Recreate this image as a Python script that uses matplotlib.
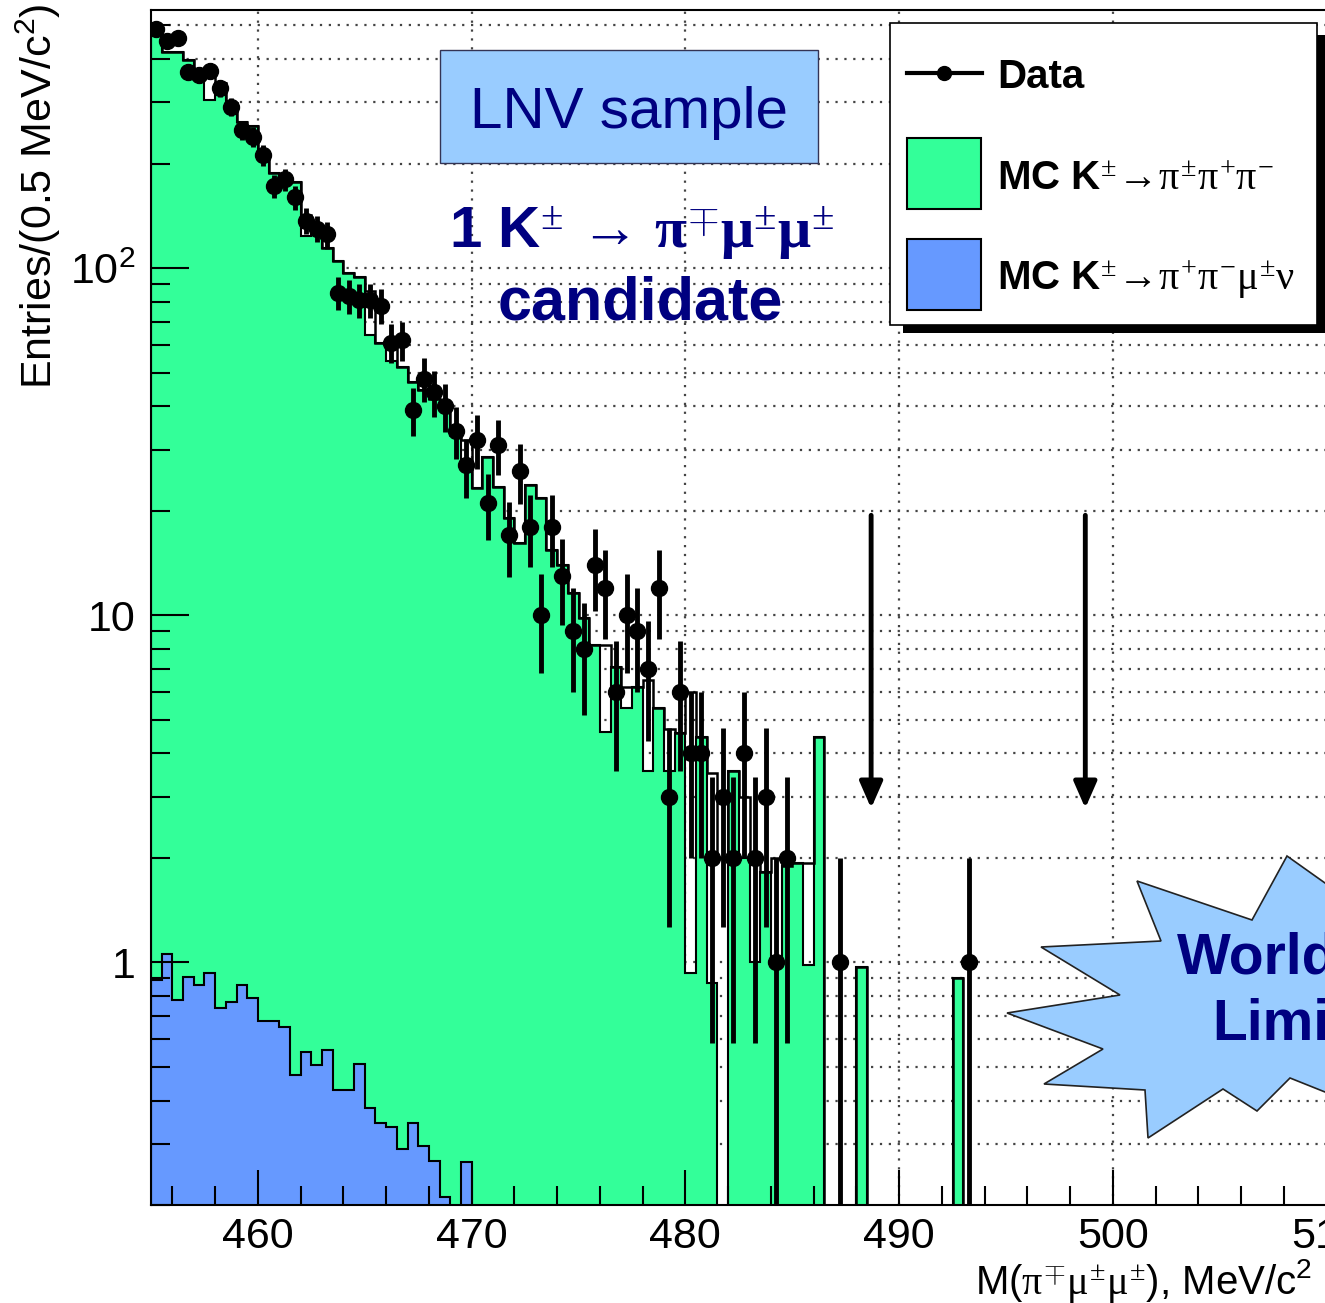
import numpy as np
import matplotlib
matplotlib.use("Agg")
import matplotlib.pyplot as plt
from matplotlib.patches import Rectangle, Polygon
from matplotlib.ticker import MultipleLocator, LogLocator, FuncFormatter, NullFormatter

plt.rcParams['font.family'] = ['Liberation Sans', 'DejaVu Sans']
plt.rcParams['mathtext.fontset'] = 'custom'
plt.rcParams['mathtext.rm'] = 'Liberation Serif'
plt.rcParams['mathtext.it'] = 'Liberation Serif'
plt.rcParams['mathtext.bf'] = 'Liberation Serif:bold'

# histogram binning: 0.5 MeV bins starting at 455 MeV
bin_lo = 455.0
bin_w = 0.5

# data counts per bin
data_counts = [489, 452, 460, 367, 360, 370, 330, 291, 250, 239,
               212, 172, 180, 160, 137, 130, 125, 85, 83, 81,
               81, 78, 61, 62, 39, 48, 44, 40, 34, 27,
               32, 21, 31, 17, 26, 18, 10, 18, 13, 9,
               8, 14, 12, 6, 10, 9, 7, 12, 3, 6,
               4, 4, 2, 3, 2, 4, 2, 3, 1, 2,
               0, 0, 0, 0, 1, 0, 0, 0, 0, 0,
               0, 0, 0, 0, 0, 0, 1, 0]

# MC K3pi stacked on top of Kmu4 (total height)
mc_k3pi = [480, 420, 420, 398, 367, 305, 341, 299, 264, 257,
           214, 188, 177, 177, 124, 131, 114, 105, 97, 94,
           64, 61, 54, 52, 47, 44.5, 42, 40, 33, 26.5,
           23.2, 28.5, 23.4, 19, 16.2, 23.7, 21.7, 15.4, 14, 11.6,
           9.8, 8.2, 4.6, 7.1, 5.4, 6.2, 3.57, 5.4, 3.55, 4.57,
           0.93, 4.45, 0.87, 0, 3.55, 2.0, 1.0, 1.82, 0.97, 1.9,
           1.93, 0.98, 4.45, 0, 0, 0, 0.97, 0, 0, 0,
           0, 0, 0, 0, 0, 0.9, 0, 0]

# unfilled MC outline
mc_outline = [480, 420, 420, 398, 367, 367, 341, 299, 264, 257,
              214, 188, 177, 177, 142, 131, 114, 105, 97, 94,
              86, 61, 60, 52, 47, 44.5, 42, 40, 33, 32,
              23.2, 28.5, 23.4, 19, 16.2, 23.7, 21.7, 15.4, 14, 11.6,
              9.8, 8.2, 8.2, 7.1, 6.2, 6.2, 6.5, 5.4, 4.7, 4.57,
              6.0, 4.45, 3.5, 2.0, 3.55, 3.0, 2.0, 1.82, 2.0, 1.9,
              1.93, 1.93, 4.45, 0, 0, 0, 0.97, 0, 0, 0,
              0, 0, 0, 0, 0, 0.9, 0, 0]

# MC Kmu4
mc_kmu4 = [0.89, 1.06, 0.78, 0.91, 0.86, 0.93, 0.74, 0.77, 0.86, 0.79,
           0.68, 0.68, 0.65, 0.475, 0.55, 0.505, 0.56, 0.43, 0.43, 0.51,
           0.38, 0.344, 0.336, 0.29, 0.344, 0.295, 0.267, 0.211, 0, 0.266]

W, H = 1325, 1303
floor = 1e-3
green = '#33ff99'
blue = '#6699ff'
navy = '#000080'
lightblue = '#99ccff'

edges = bin_lo + bin_w * np.arange(len(data_counts) + 1)
centers = edges[:-1] + bin_w / 2

fig = plt.figure(figsize=(W / 100, H / 100), dpi=100)
ax = fig.add_axes([151 / W, (H - 1205) / H, 60 * 21.375 / W, 1195 / H])
ax.set_yscale('log')
ax.set_xlim(455, 515)
ax.set_ylim(0.2, 554)

# dotted grid below the histograms
grid_kw = dict(color='#444444', lw=1.6, ls=(0, (1, 3)), zorder=0.5)
for gx in range(460, 515, 10):
    ax.axvline(gx, **grid_kw)
for dec in [0.1, 1, 10, 100]:
    for m in range(1, 10):
        v = m * dec
        if 0.2 < v < 554:
            ax.axhline(v, **grid_kw)

g = np.array(mc_k3pi, float)
ax.stairs(np.where(g > 0, g, floor), edges, fill=True, baseline=floor,
          facecolor=green, edgecolor='black', lw=1.5, zorder=1)
b = np.array(mc_kmu4, float)
ax.stairs(np.where(b > 0, b, floor), edges[:len(b) + 1], fill=True, baseline=floor,
          facecolor=blue, edgecolor='black', lw=1.5, zorder=1.1)
o = np.array(mc_outline, float)
ax.stairs(np.where(o > 0, o, floor), edges, fill=False, baseline=None,
          color='black', lw=1.8, zorder=1.2)

n = np.array(data_counts, float)
sel = n > 0
err = np.sqrt(n[sel])
lo = np.minimum(err, n[sel] - floor)
ax.errorbar(centers[sel], n[sel], yerr=[lo, err], xerr=bin_w / 2, fmt='o',
            color='black', ms=11.5, elinewidth=3.5, capsize=0, zorder=3)

# limit arrows
for xa in (488.69, 498.71):
    ax.annotate('', xy=(xa, 2.78), xytext=(xa, 19.4),
                arrowprops=dict(arrowstyle='-|>,head_length=0.8,head_width=0.35',
                                lw=3.5, color='black', shrinkA=0, shrinkB=0,
                                mutation_scale=20), zorder=4)

ax.xaxis.set_major_locator(MultipleLocator(10))
ax.xaxis.set_minor_locator(MultipleLocator(2))
ax.tick_params(axis='x', which='major', direction='in', length=25, width=1.5,
               labelsize=31, pad=9, top=False)
ax.tick_params(axis='x', which='minor', direction='in', length=13.5, width=1.5, top=False)
ax.yaxis.set_major_locator(LogLocator(base=10, numticks=10))
ax.yaxis.set_minor_locator(LogLocator(base=10, subs=np.arange(2, 10), numticks=20))
ax.yaxis.set_minor_formatter(NullFormatter())
ylabels = {1: '1', 10: '10', 100: r'$\mathregular{10^{2}}$'}
ax.yaxis.set_major_formatter(FuncFormatter(lambda v, p: ylabels.get(int(round(v)), '') if v >= 1 else ''))
ax.tick_params(axis='y', which='major', direction='in', length=27, width=1.5,
               labelsize=31, pad=11, right=False)
ax.tick_params(axis='y', which='minor', direction='in', length=13.5, width=1.5, right=False)
for sp in ax.spines.values():
    sp.set_linewidth(1.5)

# overlay in pixel coordinates for labels, legend and boxes
ov = fig.add_axes([0, 0, 1, 1], zorder=5)
ov.set_xlim(0, W)
ov.set_ylim(H, 0)
ov.axis('off')

ov.text(38, 3, r'Entries/(0.5 MeV/c$\mathregular{^{2}}$)', rotation=90,
        ha='center', va='top', fontsize=31)
ov.text(975, 1294, r'M($\pi^{\mp}\mu^{\pm}\mu^{\pm}$), MeV/c$\mathregular{^{2}}$',
        ha='left', va='baseline', fontsize=29)

# legend
ov.add_patch(Rectangle((903, 35), 440, 298, facecolor='black', edgecolor='none'))
ov.add_patch(Rectangle((890, 23), 427, 302, facecolor='white', edgecolor='black', lw=1.2))
ov.plot([907, 982], [73, 73], color='black', lw=3)
ov.plot([944], [73], 'o', color='black', ms=10)
ov.text(997, 88, 'Data', fontsize=29, fontweight='bold', va='baseline')
ov.add_patch(Rectangle((907, 138), 74, 71, facecolor=green, edgecolor='black', lw=1.5))
ov.text(997, 190, r'MC K$^{\pm}\!\rightarrow\!\pi^{\pm}\pi^{+}\pi^{-}$', fontsize=29,
        fontweight='bold', va='baseline')
ov.add_patch(Rectangle((907, 239), 74, 71, facecolor=blue, edgecolor='black', lw=1.5))
ov.text(997, 290, r'MC K$^{\pm}\!\rightarrow\!\pi^{+}\pi^{-}\mu^{\pm}\nu$', fontsize=29,
        fontweight='bold', va='baseline')

# LNV sample box and candidate text
ov.add_patch(Rectangle((440, 50), 378, 113, facecolor=lightblue, edgecolor='#333355', lw=1))
ov.text(629, 128, 'LNV sample', ha='center', va='baseline', fontsize=42, color=navy)
ov.text(641, 248, r'1 K$^{\pm}$ → $\mathbf{\pi}^{\mp}\mathbf{\mu}^{\pm}\mathbf{\mu}^{\pm}$',
        ha='center', va='baseline', fontsize=42, fontweight='bold', color=navy)
ov.text(640, 320, 'candidate', ha='center', va='baseline', fontsize=44,
        fontweight='bold', color=navy)

# starburst
star = [(1137, 881), (1252, 920), (1287, 856), (1325, 883), (1370, 870), (1360, 960),
        (1380, 1060), (1325, 1092), (1290, 1078), (1257, 1111), (1223, 1089),
        (1148, 1138), (1145, 1090), (1044, 1084), (1103, 1049), (1007, 1013),
        (1120, 995), (1041, 947), (1161, 941)]
ov.add_patch(Polygon(star, closed=True, facecolor=lightblue, edgecolor='#222222', lw=1.2))
ov.text(1280, 974, "World's", ha='center', va='baseline', fontsize=41,
        fontweight='bold', color=navy)
ov.text(1280, 1040, 'Limit', ha='center', va='baseline', fontsize=41,
        fontweight='bold', color=navy)

fig.savefig('out.png', dpi=100)
